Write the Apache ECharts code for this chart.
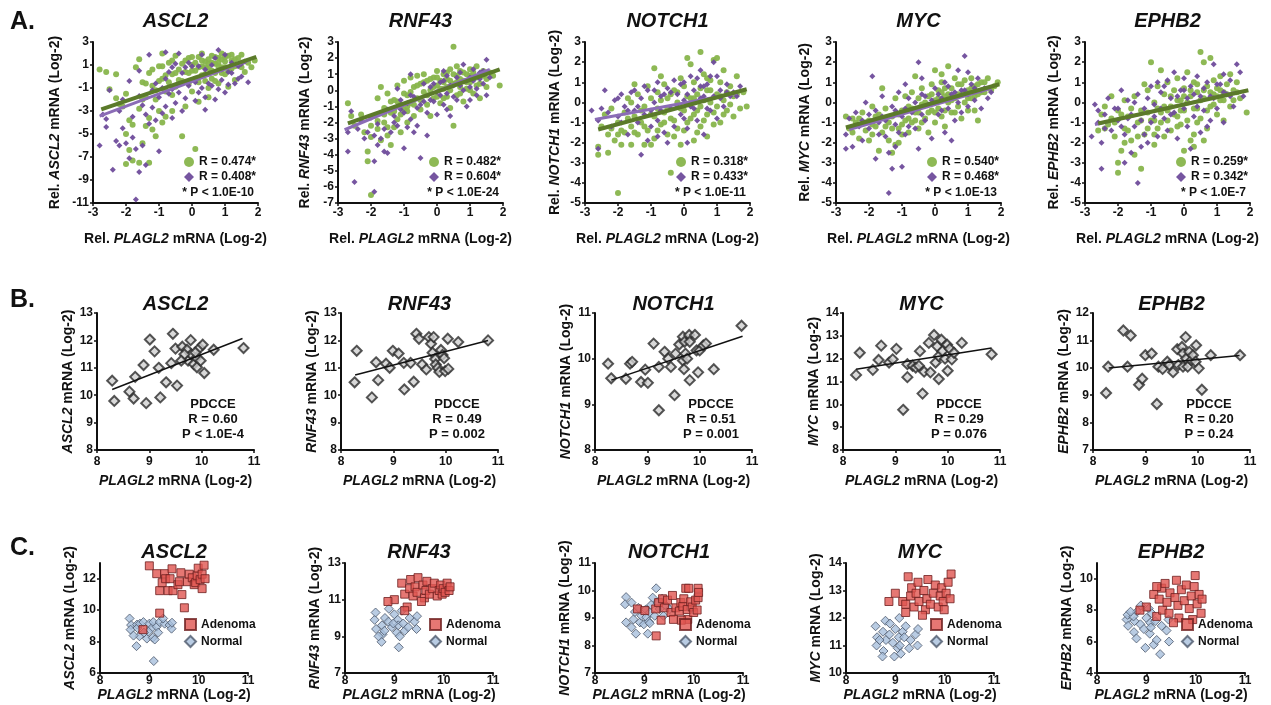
<!DOCTYPE html>
<html>
<head>
<meta charset="utf-8">
<script src="https://cdn.jsdelivr.net/npm/echarts@6/dist/echarts.min.js"></script>
<style>
html, body { margin: 0; padding: 0; background: #fff; }
#main { width: 1271px; height: 705px; }
</style>
</head>
<body>
<div id="main"></div>
<script>
// gene names (columns)
const genes = ['ASCL2', 'RNF43', 'NOTCH1', 'MYC', 'EPHB2'];

// ---------- row A : two cohorts, [PLAGL2, gene] ----------
const ascl2A_green = [[-2.6,0.4],[-2.3,0.2],[-2.5,-1.1],[-2.2,-2.4],[-2.0,-1.5],[-1.9,-3.8],[-1.8,-4.2],[-2.0,-5.0],[-1.9,-6.4],[-1.8,-7.3],[-2.0,-7.6],[-1.6,-7.5],[-1.3,-7.5],[-1.5,-5.8],[-1.4,-4.3],[-1.3,-3.6],[-1.2,-4.6],[-1.1,-5.2],[-1.0,-3.0],[-0.9,-4.0],[-0.8,-3.5],[-1.7,0.8],[-1.6,1.5],[-1.5,-0.5],[-1.4,-1.8],[-1.3,0.3],[-1.2,-0.8],[-1.1,-2.0],[-1.0,0.9],[-0.9,-0.2],[-0.8,-1.3],[-0.7,1.2],[-0.6,0.2],[-0.5,-0.9],[-0.5,1.8],[-0.4,0.6],[-0.3,-5.2],[-0.3,-0.4],[-0.2,1.4],[-0.1,0.3],[0.0,-1.3],[0.0,1.0],[0.1,-6.3],[0.1,0.5],[0.2,1.7],[0.2,-0.5],[0.3,0.9],[0.3,2.0],[0.4,0.2],[0.4,1.3],[0.5,-1.0],[0.5,0.7],[0.6,1.8],[0.6,-0.2],[0.7,1.1],[0.7,0.3],[0.8,1.6],[0.8,-0.6],[0.9,0.8],[0.9,2.0],[1.0,0.2],[1.0,1.3],[1.1,1.8],[1.1,-0.9],[1.2,0.7],[1.3,1.5],[1.3,-0.3],[1.4,1.0],[1.5,1.9],[1.6,0.4],[1.8,0.8],[-0.6,-3.0],[-0.2,-2.6],[0.2,-2.2],[-1.6,-2.8],[-2.3,-1.9],[0.5,-1.8],[-0.9,2.0],[1.9,1.4],[-2.8,0.6],
  [-1.2,0.6],[-1.0,-0.4],[-0.9,0.9],[-0.8,0.1],[-0.7,-0.5],[-0.6,1.4],[-0.5,0.3],[-0.4,-0.3],[-0.3,1.1],[-0.2,0.4],[-0.1,1.6],[-0.1,-0.6],[0.0,0.5],[0.0,1.7],[0.1,1.2],[0.1,-0.2],[0.2,0.8],[0.3,0.1],[0.3,1.4],[0.4,0.8],[0.4,-0.4],[0.5,1.5],[0.5,1.1],[0.6,0.5],[0.6,1.2],[0.7,1.7],[0.7,-0.4],[0.8,0.9],[0.8,1.2],[0.9,0.3],[0.9,1.5],[1.0,0.8],[1.0,1.7],[1.1,0.5],[1.2,1.4],[1.2,1.9],[1.3,0.9],[1.4,1.6],[1.5,0.8],[1.7,1.2],[-1.4,-0.6],[-1.5,-2.0],[-1.1,-1.2],[-0.6,-1.6],[-2.1,-2.6]];
const ascl2A_purple = [[-2.8,-6.0],[-2.7,-3.3],[-2.6,-4.4],[-2.5,-1.2],[-2.4,-8.1],[-2.3,-5.6],[-2.2,-3.0],[-2.1,-2.0],[-2.0,-5.8],[-1.9,-7.1],[-1.8,-3.5],[-1.7,-10.7],[-1.7,-6.3],[-1.6,-8.3],[-1.5,-6.0],[-1.5,-2.5],[-1.4,-7.7],[-1.3,1.9],[-1.3,-4.1],[-1.2,-2.7],[-1.1,-0.6],[-1.0,-6.5],[-1.0,-1.8],[-0.9,-3.2],[-0.8,2.1],[-0.8,-0.2],[-0.7,-1.5],[-0.6,0.8],[-0.5,-2.3],[-0.4,2.0],[-0.4,-0.7],[-0.3,0.3],[-0.2,-1.9],[-0.1,1.2],[0.0,-0.3],[0.1,-2.1],[0.2,0.9],[0.3,1.9],[0.3,-1.0],[0.4,-1.8],[0.5,0.2],[0.6,-0.8],[0.7,-2.0],[0.7,1.6],[0.8,2.3],[0.9,-0.3],[1.0,1.9],[1.0,-1.4],[1.1,0.4],[1.2,1.2],[1.3,-0.6],[1.4,0.9],[1.5,0.0],[1.6,1.3],[-1.9,-0.4],[-1.6,0.5],[-0.6,-3.6],[0.4,-2.9],[-2.1,-4.5],[1.7,-0.5],
  [-1.6,-1.7],[-1.4,-3.3],[-1.2,-1.2],[-1.1,-3.8],[-0.9,-1.0],[-0.8,-2.6],[-0.7,0.4],[-0.6,-1.1],[-0.5,1.1],[-0.4,-1.4],[-0.2,0.8],[-0.1,-0.8],[0.0,0.9],[0.1,-0.5],[0.2,-1.4],[0.4,0.6],[0.5,-0.6],[0.6,1.0],[0.8,-1.1],[0.9,0.6],[1.1,-0.7],[1.2,0.3],[1.4,-0.2],[-2.2,-6.0],[-1.8,-5.3],[-0.3,-3.0],[1.5,1.1],[-2.6,-3.7]];
const ascl2A_greenFit = [[-2.75,-2.85],[1.95,1.7]];
const ascl2A_purpleFit = [[-2.8,-3.45],[1.75,1.45]];

const rnf43A_green = [[-2.7,-0.8],[-2.5,-2.2],[-2.3,-1.5],[-2.2,-2.6],[-2.1,-3.8],[-2.1,-4.4],[-2.0,-6.5],[-2.0,-2.9],[-1.9,-1.6],[-1.8,-0.5],[-1.8,-2.4],[-1.7,-3.1],[-1.6,-1.1],[-1.6,-2.0],[-1.5,-0.2],[-1.5,-2.8],[-1.4,-1.4],[-1.4,-3.4],[-1.3,-0.6],[-1.3,-2.3],[-1.2,0.3],[-1.2,-1.8],[-1.1,-0.9],[-1.1,-2.6],[-1.0,0.6],[-1.0,-1.2],[-0.9,-0.3],[-0.9,-2.0],[-0.8,0.8],[-0.8,-0.8],[-0.7,-1.6],[-0.7,0.2],[-0.6,-0.5],[-0.6,0.9],[-0.5,-1.2],[-0.5,0.4],[-0.4,-0.1],[-0.4,1.0],[-0.3,-0.9],[-0.3,0.6],[-0.2,0.0],[-0.2,-1.6],[-0.1,0.8],[-0.1,-0.5],[0.0,0.3],[0.0,1.2],[0.1,-0.8],[0.1,0.6],[0.2,0.1],[0.2,1.0],[0.3,-0.4],[0.3,0.7],[0.4,1.3],[0.4,-1.1],[0.5,2.7],[0.5,-2.2],[0.5,0.4],[0.6,0.9],[0.6,-0.3],[0.7,1.2],[0.7,0.2],[0.8,0.6],[0.8,-0.7],[0.9,1.0],[0.9,0.1],[1.0,0.5],[1.0,1.3],[1.1,-0.2],[1.1,0.8],[1.2,1.5],[1.2,0.3],[1.3,-0.5],[1.4,0.9],[1.5,0.2],[1.6,1.1],[1.9,0.3],[-2.6,-1.6],[-1.7,0.2],[-0.9,-1.3],[0.6,1.5],
  [-1.3,-1.3],[-1.2,-0.7],[-1.1,-1.5],[-1.0,-0.2],[-0.9,-1.0],[-0.8,-0.1],[-0.7,-0.9],[-0.6,0.3],[-0.5,-0.6],[-0.4,0.5],[-0.3,-0.3],[-0.2,0.7],[-0.1,0.2],[0.0,-0.4],[0.0,0.8],[0.1,0.1],[0.2,0.5],[0.2,-0.5],[0.3,1.1],[0.3,0.2],[0.4,0.6],[0.4,0.0],[0.5,1.0],[0.6,0.5],[0.7,0.7],[0.7,-0.2],[0.8,1.1],[0.9,0.5],[1.0,0.9],[1.0,0.0],[1.1,1.1],[1.2,0.8],[1.3,0.4],[1.4,1.2],[1.5,0.7],[1.7,0.9],[-1.6,-1.5],[-1.5,-2.3],[-1.8,-1.9],[-2.0,-2.2],[-1.4,-0.7]];
const rnf43A_purple = [[-2.7,-2.6],[-2.7,-3.8],[-2.6,-1.3],[-2.5,-5.7],[-2.4,-2.4],[-2.3,-1.9],[-2.2,-3.0],[-2.0,-1.7],[-1.9,-6.3],[-1.9,-4.4],[-1.9,-2.8],[-1.8,-2.1],[-1.7,-3.0],[-1.6,-3.8],[-1.5,-3.9],[-1.5,-1.2],[-1.4,-2.6],[-1.3,-1.6],[-1.2,-2.2],[-1.1,-0.6],[-1.0,-3.6],[-1.0,-1.4],[-0.9,-0.8],[-0.8,-1.8],[-0.7,-0.4],[-0.6,-2.2],[-0.5,-4.2],[-0.5,-0.9],[-0.4,0.4],[-0.3,-2.8],[-0.3,-1.4],[-0.2,0.2],[-0.1,-0.7],[0.0,-0.1],[0.0,-1.5],[0.1,0.5],[0.2,-0.9],[0.3,0.9],[0.3,-0.2],[0.4,-1.6],[0.5,0.3],[0.6,-0.6],[0.7,1.1],[0.8,1.6],[0.8,0.0],[0.9,-1.0],[1.0,0.8],[1.1,1.3],[1.2,0.1],[1.3,1.1],[1.4,0.4],[1.5,1.9],[1.5,-0.3],[1.6,0.8],[-0.8,1.0],[-1.2,0.1],[0.2,1.2],[1.0,-0.6],
  [-1.6,-2.4],[-1.3,-2.0],[-1.1,-1.2],[-0.9,-2.3],[-0.8,-0.3],[-0.6,-1.1],[-0.4,-0.7],[-0.2,-0.6],[-0.1,0.4],[0.1,-0.3],[0.2,0.6],[0.4,0.3],[0.5,-0.4],[0.6,0.8],[0.7,0.3],[0.9,0.6],[1.0,0.2],[1.1,0.6],[1.3,0.7],[1.4,1.2],[-2.1,-2.6],[-1.8,-3.4],[-0.7,-2.6],[1.2,-0.3],[0.3,-1.2]];
const rnf43A_greenFit = [[-2.7,-2.05],[1.9,1.3]];
const rnf43A_purpleFit = [[-2.8,-2.45],[1.6,1.3]];

const notch1A_green = [[-2.6,-2.6],[-2.6,-2.2],[-2.5,-1.2],[-2.4,-0.6],[-2.3,-1.6],[-2.2,-0.3],[-2.1,-1.9],[-2.0,-4.5],[-2.0,-1.0],[-1.9,-2.1],[-1.8,-0.5],[-1.8,-1.5],[-1.7,0.2],[-1.6,-1.2],[-1.6,-2.1],[-1.5,-0.7],[-1.4,-1.6],[-1.4,0.4],[-1.3,-1.0],[-1.2,-2.1],[-1.2,-0.2],[-1.1,0.8],[-1.1,-1.4],[-1.0,-0.6],[-0.9,1.7],[-0.9,-1.8],[-0.8,-0.3],[-0.8,0.5],[-0.7,-1.1],[-0.6,0.9],[-0.6,-0.5],[-0.5,-1.6],[-0.5,0.2],[-0.4,-3.5],[-0.4,-0.8],[-0.3,0.6],[-0.2,-1.3],[-0.2,0.0],[-0.1,1.2],[-0.1,-2.1],[0.0,-0.4],[0.0,0.8],[0.1,2.2],[0.1,-1.0],[0.2,1.9],[0.2,0.2],[0.3,-0.6],[0.3,1.0],[0.4,-1.5],[0.4,0.4],[0.5,2.5],[0.5,-0.2],[0.6,1.4],[0.6,-0.9],[0.7,0.6],[0.7,-1.7],[0.8,0.0],[0.8,1.1],[0.9,2.1],[0.9,-0.5],[1.0,2.2],[1.0,0.4],[1.1,-1.0],[1.1,1.0],[1.2,0.1],[1.2,1.6],[1.3,-0.4],[1.4,0.8],[1.5,0.3],[1.6,1.3],[1.7,-0.3],[1.9,-0.2],[-1.0,-2.1],[-1.5,0.9],[0.3,-1.9],[-0.7,1.3],[1.5,-0.7],[-2.3,-2.5],
  [-2.2,-1.3],[-1.9,-1.4],[-1.7,-0.8],[-1.5,-1.5],[-1.3,-0.4],[-1.2,-1.2],[-1.0,0.2],[-0.9,-0.7],[-0.8,-1.4],[-0.7,0.1],[-0.6,-1.0],[-0.5,-0.3],[-0.4,0.4],[-0.3,-0.9],[-0.2,0.5],[-0.1,-0.3],[0.0,-1.4],[0.1,0.3],[0.2,-0.8],[0.3,0.2],[0.4,-0.4],[0.5,0.7],[0.5,-1.2],[0.6,0.1],[0.7,-0.6],[0.8,0.6],[0.9,-1.1],[1.0,-0.2],[1.1,0.3],[1.2,-0.6],[1.3,0.5],[1.4,-0.1],[1.6,0.4],[1.8,0.5],[-1.6,0.0],[-2.0,-1.6],[-0.3,-1.7],[0.7,1.2]];
const notch1A_purple = [[-2.8,-0.4],[-2.6,-2.3],[-2.6,-0.9],[-2.4,0.6],[-2.3,-0.5],[-2.2,-1.2],[-2.1,0.1],[-2.0,-0.7],[-1.9,0.4],[-1.8,-0.2],[-1.7,-1.6],[-1.6,0.5],[-1.5,-0.4],[-1.4,-1.0],[-1.3,-2.6],[-1.3,0.2],[-1.2,-0.6],[-1.1,0.6],[-1.0,-1.2],[-0.9,0.0],[-0.8,1.0],[-0.8,-0.9],[-0.7,0.3],[-0.6,-1.5],[-0.5,0.7],[-0.4,-0.3],[-0.3,1.1],[-0.3,-1.2],[-0.2,0.4],[-0.1,-0.6],[0.0,1.0],[0.0,0.1],[0.1,-1.3],[0.2,1.3],[0.2,-0.2],[0.3,0.6],[0.4,-0.9],[0.4,1.2],[0.5,0.2],[0.6,-1.6],[0.6,0.8],[0.7,-0.3],[0.8,1.3],[0.9,2.0],[0.9,0.3],[1.0,-0.8],[1.0,1.3],[1.1,0.6],[1.2,-0.2],[1.3,0.9],[1.4,0.3],[1.5,0.5],[1.7,0.8],[-0.5,-2.0],[0.1,-2.0],[-1.9,-1.0],[0.5,1.6],[-1.1,-1.9],
  [-2.5,-0.3],[-2.0,0.2],[-1.7,-0.4],[-1.5,0.6],[-1.4,-0.2],[-1.2,0.8],[-1.0,-0.4],[-0.9,0.6],[-0.7,-0.4],[-0.6,0.4],[-0.4,0.5],[-0.2,-0.2],[-0.1,0.9],[0.1,0.4],[0.3,-0.3],[0.5,0.8],[0.6,0.3],[0.7,0.9],[0.8,-0.4],[1.1,0.2],[1.3,0.5],[1.6,0.3],[-0.8,-1.7],[0.0,-0.8]];
const notch1A_greenFit = [[-2.6,-1.35],[1.9,0.65]];
const notch1A_purpleFit = [[-2.7,-0.85],[1.6,0.45]];

const mycA_green = [[-2.7,-0.7],[-2.6,-1.3],[-2.4,-1.0],[-2.3,-1.8],[-2.2,-0.5],[-2.1,-1.4],[-2.0,-0.9],[-2.0,-1.9],[-1.9,-0.2],[-1.8,-1.2],[-1.7,-2.4],[-1.7,-0.6],[-1.6,0.7],[-1.6,-1.5],[-1.5,-0.3],[-1.4,-1.0],[-1.4,-1.9],[-1.3,-2.5],[-1.3,-0.7],[-1.2,-2.1],[-1.2,0.2],[-1.1,-1.3],[-1.0,-0.4],[-1.0,-1.6],[-0.9,0.3],[-0.9,-0.9],[-0.8,-1.5],[-0.8,-0.2],[-0.7,0.5],[-0.7,-1.0],[-0.6,-0.5],[-0.5,0.2],[-0.5,-1.3],[-0.4,-0.1],[-0.4,0.7],[-0.3,-0.8],[-0.2,0.3],[-0.2,-1.5],[-0.1,0.9],[-0.1,-0.4],[0.0,0.1],[0.0,-1.0],[0.1,0.6],[0.1,-0.3],[0.2,1.0],[0.2,-0.7],[0.3,0.3],[0.3,-1.2],[0.4,1.8],[0.4,0.0],[0.5,0.7],[0.5,-0.5],[0.6,1.2],[0.6,0.2],[0.7,-0.2],[0.7,0.9],[0.8,0.4],[0.8,-0.8],[0.9,1.1],[0.9,0.0],[1.0,0.6],[1.0,-0.4],[1.1,1.2],[1.1,0.2],[1.2,0.8],[1.3,-0.9],[1.3,0.4],[1.4,1.0],[1.5,0.5],[1.6,1.2],[1.8,0.8],[1.9,1.0],[-0.6,1.3],[0.2,1.4],[-1.5,-1.2],[-2.5,-0.8],[1.2,-0.4],[0.0,1.6],
  [-2.5,-1.5],[-2.3,-0.8],[-2.1,-1.0],[-1.9,-1.6],[-1.8,-0.7],[-1.5,-0.8],[-1.3,-1.3],[-1.1,-0.6],[-1.0,-1.1],[-0.9,-0.4],[-0.8,-0.8],[-0.7,-0.3],[-0.6,-0.9],[-0.5,-0.5],[-0.4,-1.0],[-0.3,0.0],[-0.2,-0.5],[-0.1,0.4],[0.0,-0.5],[0.1,0.2],[0.2,0.5],[0.3,0.7],[0.4,0.4],[0.5,0.1],[0.6,-0.5],[0.7,0.4],[0.8,0.9],[0.9,0.5],[1.0,0.2],[1.1,0.7],[1.2,0.3],[1.3,0.9],[1.4,0.5],[1.5,1.0],[1.7,0.6],[-1.9,-1.1],[-1.1,-2.0],[0.3,-0.4]];
const mycA_purple = [[-2.7,-1.6],[-2.6,-0.8],[-2.5,-2.2],[-2.4,-0.5],[-2.2,-1.9],[-2.2,-0.9],[-2.1,0.0],[-2.0,-1.3],[-1.9,1.3],[-1.8,-2.8],[-1.8,-0.4],[-1.7,-1.0],[-1.6,0.3],[-1.5,-1.7],[-1.4,-2.5],[-1.4,-4.5],[-1.3,-3.3],[-1.3,-0.2],[-1.2,-1.1],[-1.1,0.5],[-1.0,-3.2],[-1.0,-0.7],[-0.9,-1.6],[-0.8,0.2],[-0.7,-0.5],[-0.6,-1.3],[-0.5,2.0],[-0.5,-2.3],[-0.4,0.4],[-0.3,-0.9],[-0.2,-0.1],[-0.1,-1.8],[0.0,0.7],[0.1,-0.6],[0.2,0.2],[0.3,-1.5],[0.3,1.0],[0.4,-0.3],[0.5,0.4],[0.6,-0.9],[0.7,1.6],[0.7,0.0],[0.8,-0.5],[0.9,2.3],[0.9,0.6],[1.0,1.5],[1.0,-0.2],[1.1,0.9],[1.2,0.1],[1.3,1.2],[1.4,-0.3],[1.5,0.7],[1.6,0.2],[1.7,0.5],[-0.4,1.2],[-1.6,-0.7],[0.5,-1.9],[-0.9,0.9],
  [-2.3,-1.2],[-2.0,-0.6],[-1.7,-1.6],[-1.5,-0.9],[-1.2,-0.4],[-1.1,-1.5],[-0.9,-0.3],[-0.8,-1.2],[-0.6,0.0],[-0.4,-0.6],[-0.3,0.3],[-0.1,0.1],[0.1,0.4],[0.2,-0.4],[0.4,0.8],[0.6,0.5],[0.8,0.6],[1.0,0.4],[1.2,0.7],[1.4,0.6],[-2.7,-2.3],[-1.2,-2.2]];
const mycA_greenFit = [[-2.7,-1.25],[1.95,0.9]];
const mycA_purpleFit = [[-2.6,-1.35],[1.7,0.7]];

const ephb2A_green = [[-2.6,-1.4],[-2.5,-0.6],[-2.4,-0.2],[-2.3,-1.1],[-2.2,-0.8],[-2.1,-1.7],[-2.0,-3.0],[-2.0,-3.5],[-2.0,-0.4],[-1.9,-2.4],[-1.8,-1.3],[-1.8,0.1],[-1.7,-0.7],[-1.6,-1.9],[-1.5,-2.6],[-1.5,0.3],[-1.4,-1.0],[-1.3,-3.3],[-1.3,-0.4],[-1.2,-1.6],[-1.1,0.6],[-1.0,2.0],[-1.0,-0.9],[-0.9,-2.1],[-0.9,0.0],[-0.8,-1.3],[-0.8,0.8],[-0.7,-0.5],[-0.6,-1.7],[-0.6,0.4],[-0.5,-0.9],[-0.5,1.0],[-0.4,-0.2],[-0.4,-1.4],[-0.3,0.6],[-0.2,-0.7],[-0.2,1.2],[-0.1,0.1],[-0.1,-1.1],[0.0,0.7],[0.0,-0.4],[0.1,1.5],[0.1,-0.9],[0.2,-1.9],[0.2,0.3],[0.3,-2.2],[0.3,1.0],[0.4,-0.3],[0.4,0.5],[0.5,2.5],[0.5,-0.8],[0.6,2.0],[0.6,0.2],[0.7,-1.3],[0.7,0.8],[0.8,2.2],[0.8,-0.2],[0.9,0.4],[0.9,1.1],[1.0,-0.6],[1.0,0.7],[1.1,0.1],[1.1,1.3],[1.2,-0.9],[1.2,0.5],[1.3,0.9],[1.4,-0.2],[1.5,0.6],[1.6,1.0],[1.7,0.2],[1.9,-0.5],[0.3,-1.6],[-1.2,0.9],[-0.7,1.6],[0.0,-2.4],[1.4,1.4],[-2.2,0.3],[0.6,-1.9],
  [-2.4,-1.3],[-2.1,-1.0],[-1.9,-0.6],[-1.7,-1.4],[-1.6,-0.3],[-1.4,-1.7],[-1.3,-0.9],[-1.1,-0.5],[-1.1,-1.3],[-0.9,-0.9],[-0.8,-0.3],[-0.7,-1.0],[-0.6,-0.2],[-0.5,-0.4],[-0.4,0.3],[-0.3,-0.6],[-0.2,0.1],[-0.1,-0.4],[0.0,0.3],[0.1,0.0],[0.2,0.6],[0.3,-0.3],[0.4,0.9],[0.5,0.1],[0.6,0.6],[0.7,-0.4],[0.8,0.5],[0.9,-0.1],[1.0,0.3],[1.1,0.6],[1.2,0.1],[1.3,0.4],[1.5,0.1],[1.6,0.5],[-1.8,-2.0],[-0.9,-1.6],[0.4,-1.0],[-0.2,-1.2]];
const ephb2A_purple = [[-2.8,-1.7],[-2.7,-0.1],[-2.6,-1.0],[-2.5,-2.0],[-2.5,-3.3],[-2.4,-0.6],[-2.3,0.2],[-2.2,-1.4],[-2.1,-0.3],[-2.0,-0.9],[-1.9,0.6],[-1.8,-3.0],[-1.8,-1.6],[-1.7,0.1],[-1.6,-0.6],[-1.5,-1.2],[-1.4,-4.0],[-1.4,0.4],[-1.3,-2.2],[-1.2,-0.3],[-1.1,-2.0],[-1.0,0.8],[-1.0,-1.0],[-0.9,-0.1],[-0.8,-1.7],[-0.7,0.5],[-0.6,-0.8],[-0.5,1.1],[-0.5,-1.4],[-0.4,0.2],[-0.3,1.5],[-0.3,-0.5],[-0.2,-1.8],[-0.1,0.6],[0.0,1.2],[0.0,-0.3],[0.1,-1.2],[0.2,0.8],[0.3,-0.7],[0.4,1.3],[0.5,-1.5],[0.5,0.3],[0.6,-0.4],[0.7,1.0],[0.8,-0.9],[0.9,1.9],[0.9,0.2],[1.0,-0.3],[1.1,0.9],[1.2,-1.0],[1.3,0.4],[1.4,1.1],[1.5,-0.2],[1.6,1.9],[1.7,1.5],[1.8,0.3],[-0.8,1.0],[0.2,-2.3],[-1.6,-2.5],[1.2,1.4],
  [-2.6,-0.4],[-2.4,-1.3],[-2.0,-0.3],[-1.9,-1.2],[-1.7,-0.8],[-1.5,0.0],[-1.3,-0.9],[-1.1,0.2],[-0.9,-0.7],[-0.7,-0.3],[-0.6,0.8],[-0.4,-0.6],[-0.2,0.3],[0.0,0.6],[0.1,0.2],[0.3,0.4],[0.4,-0.2],[0.6,0.7],[0.8,0.3],[1.0,0.9],[1.2,0.5],[1.4,0.3],[-1.2,-1.6],[0.7,-1.2]];
const ephb2A_greenFit = [[-2.6,-1.05],[1.95,0.6]];
const ephb2A_purpleFit = [[-2.7,-1.1],[1.6,0.5]];

const aGreenR = ['R = 0.474*', 'R = 0.482*', 'R = 0.318*', 'R = 0.540*', 'R = 0.259*'];
const aPurpleR = ['R = 0.408*', 'R = 0.604*', 'R = 0.433*', 'R = 0.468*', 'R = 0.342*'];
const aP = ['* P < 1.0E-10', '* P < 1.0E-24', '* P < 1.0E-11', '* P < 1.0E-13', '* P < 1.0E-7'];
const aYMin = [-11, -7, -5, -5, -5];
const aYMax = [3, 3, 3, 3, 3];
const ascl2A_yTicks = [-11, -9, -7, -5, -3, -1, 1, 3];

// ---------- row B : PDCCE ----------
const ascl2B = [[8.29,10.53],[8.33,9.79],[8.62,10.13],[8.70,9.88],[8.73,10.67],[8.89,11.10],[8.94,9.71],[9.01,12.03],[9.10,11.6],[9.18,11.0],[9.21,9.92],[9.32,10.47],[9.42,11.17],[9.45,12.24],[9.53,10.35],[9.50,11.70],[9.63,11.77],[9.72,11.66],[9.74,11.26],[9.79,12.01],[9.80,11.49],[9.85,11.14],[9.90,11.37],[9.91,11.02],[9.96,11.72],[9.98,11.26],[10.02,11.84],[10.05,10.81],[9.88,11.56],[9.67,11.49],[9.61,11.26],[10.23,11.66],[10.80,11.72]];
const ascl2B_fit = [[8.29,10.21],[10.78,12.07]];
const rnf43B = [[8.26,10.47],[8.30,11.62],[8.59,9.92],[8.67,11.2],[8.71,10.55],[8.86,11.15],[8.93,11.0],[8.99,11.62],[9.10,11.52],[9.20,11.18],[9.21,10.21],[9.33,11.18],[9.39,10.49],[9.44,12.24],[9.49,12.06],[9.55,11.12],[9.63,10.94],[9.68,12.12],[9.72,11.88],[9.77,12.12],[9.75,11.55],[9.80,11.32],[9.81,11.12],[9.85,10.99],[9.88,10.85],[9.91,11.65],[9.94,11.47],[9.97,11.35],[9.99,10.88],[10.04,12.06],[10.05,10.96],[10.24,11.94],[10.81,12.0]];
const rnf43B_fit = [[8.27,10.74],[10.81,12.0]];
const notch1B = [[8.25,9.89],[8.31,9.57],[8.67,9.89],[8.71,9.93],[8.59,9.56],[8.88,9.49],[8.96,9.76],[9.01,9.47],[9.12,10.33],[9.22,9.82],[9.22,8.87],[9.33,10.15],[9.40,10.0],[9.45,9.82],[9.52,9.2],[9.54,10.11],[9.61,10.31],[9.68,10.48],[9.71,10.37],[9.68,9.96],[9.70,9.77],[9.73,10.11],[9.76,10.0],[9.80,10.52],[9.81,10.37],[9.81,9.53],[9.91,10.52],[9.94,10.18],[9.97,9.70],[10.0,10.18],[10.07,10.29],[10.12,10.33],[10.27,9.77],[10.80,10.72]];
const notch1B_fit = [[8.31,9.53],[10.82,10.49]];
const mycB = [[8.25,11.29],[8.32,12.26],[8.57,11.51],[8.68,11.94],[8.73,12.57],[8.88,11.83],[8.95,11.97],[9.02,12.43],[9.15,9.76],[9.23,11.76],[9.23,11.19],[9.33,11.69],[9.39,11.61],[9.47,12.33],[9.45,11.69],[9.52,10.47],[9.55,11.43],[9.64,12.69],[9.67,11.40],[9.74,13.04],[9.77,11.83],[9.80,12.54],[9.83,12.11],[9.83,11.11],[9.88,12.83],[9.90,12.33],[9.95,12.0],[9.99,12.61],[10.0,11.47],[10.04,12.43],[10.08,11.97],[10.12,12.26],[10.27,12.69],[10.84,12.19]];
const mycB_fit = [[8.25,11.54],[10.84,12.47]];
const ephb2B = [[8.25,9.08],[8.29,10.04],[8.58,11.36],[8.72,11.18],[8.66,10.04],[8.88,9.38],[8.94,9.6],[9.0,10.46],[9.12,10.52],[9.22,8.68],[9.25,10.04],[9.33,9.96],[9.42,10.22],[9.46,10.10],[9.53,9.84],[9.61,10.68],[9.63,10.1],[9.70,10.76],[9.72,10.52],[9.72,10.04],[9.77,11.12],[9.78,10.34],[9.81,10.04],[9.84,10.58],[9.88,10.28],[9.91,10.46],[9.96,10.22],[9.97,10.82],[10.02,9.98],[10.08,9.20],[10.25,10.46],[10.81,10.46]];
const ephb2B_fit = [[8.3,9.99],[10.8,10.45]];

const bR = ['R = 0.60', 'R = 0.49', 'R = 0.51', 'R = 0.29', 'R = 0.20'];
const bP = ['P < 1.0E-4', 'P = 0.002', 'P = 0.001', 'P = 0.076', 'P = 0.24'];
const bYMin = [8, 8, 8, 8, 7];
const bYMax = [13, 13, 11, 14, 12];

// ---------- row C : adenoma vs normal ----------
const ascl2C_adenoma = [[9.0,12.82],[9.15,12.32],[9.21,11.24],[9.26,11.75],[9.31,12.32],[9.33,12.0],[9.38,11.24],[9.42,12.0],[9.46,12.63],[9.48,11.24],[9.58,11.62],[9.61,11.81],[9.64,12.38],[9.66,10.99],[9.71,10.15],[9.77,11.81],[9.81,12.29],[9.87,12.06],[9.91,11.62],[9.94,11.75],[9.97,12.19],[9.99,12.67],[10.03,11.94],[10.07,12.29],[10.11,12.86],[10.07,11.37],[10.13,12.0],[9.21,9.81],[8.87,8.76]];
const ascl2C_normal = [[8.6,9.47],[8.63,9.05],[8.62,8.76],[8.75,9.08],[8.76,8.86],[8.81,9.14],[8.80,8.34],[8.74,7.71],[8.88,9.24],[8.95,8.19],[9.0,9.14],[9.05,8.86],[9.07,8.25],[9.08,9.24],[9.15,8.95],[9.11,8.13],[9.09,6.76],[9.18,8.57],[9.21,9.24],[9.31,9.14],[9.28,9.47],[9.41,9.05],[9.45,8.82],[9.46,9.2],[8.68,8.38],[8.98,8.63],[8.89,8.57]];
const rnf43C_adenoma = [[9.0,11.0],[9.15,11.9],[9.21,11.3],[9.26,10.6],[9.31,11.6],[9.33,12.1],[9.38,11.2],[9.42,11.7],[9.46,11.4],[9.48,12.2],[9.58,11.8],[9.61,11.1],[9.64,11.5],[9.66,12.0],[9.71,11.3],[9.77,11.6],[9.81,11.9],[9.87,11.2],[9.91,11.5],[9.94,11.8],[9.97,11.3],[9.99,11.6],[10.03,11.4],[10.07,11.9],[10.11,11.5],[10.13,11.7],[9.21,10.4],[8.87,10.9],[9.55,10.9]];
const rnf43C_normal = [[8.6,9.9],[8.63,9.4],[8.62,10.3],[8.75,9.6],[8.76,9.1],[8.81,10.0],[8.80,9.3],[8.74,8.7],[8.88,9.8],[8.95,9.5],[9.0,10.2],[9.05,9.2],[9.07,9.9],[9.08,9.6],[9.15,10.4],[9.11,9.0],[9.09,8.4],[9.18,9.7],[9.21,9.3],[9.31,10.0],[9.28,9.5],[9.41,9.8],[9.45,9.4],[9.46,10.1],[8.68,9.0],[8.98,9.7],[8.89,10.5]];
const notch1C_adenoma = [[8.86,9.33],[9.01,9.27],[9.24,8.35],[9.23,9.33],[9.29,9.56],[9.34,8.92],[9.37,9.7],[9.41,9.37],[9.47,9.65],[9.54,9.2],[9.59,8.95],[9.64,9.37],[9.71,9.25],[9.74,9.56],[9.78,9.42],[9.80,9.70],[9.84,10.08],[9.87,9.31],[9.88,8.95],[9.90,10.08],[9.94,9.59],[9.97,9.40],[10.0,9.2],[10.04,9.65],[10.09,9.74],[10.09,10.08],[10.07,9.29],[10.10,9.93],[9.57,9.82],[9.75,8.92]];
const notch1C_normal = [[8.63,9.76],[8.61,9.5],[8.63,8.84],[8.74,8.66],[8.78,8.95],[8.81,9.22],[8.83,8.43],[8.88,9.37],[8.91,8.84],[8.94,9.08],[8.99,8.77],[9.03,9.31],[9.04,9.03],[9.07,8.43],[9.09,8.87],[9.11,9.20],[9.14,9.48],[9.17,9.74],[9.21,9.08],[9.24,10.08],[9.27,9.54],[9.31,9.33],[9.36,9.70],[9.39,9.08],[9.44,9.45],[9.51,9.31],[8.74,9.56],[9.11,8.81]];
const mycC_adenoma = [[9.0,12.9],[9.15,12.6],[9.21,12.5],[9.26,13.5],[9.31,12.8],[9.33,13.1],[9.38,12.4],[9.42,12.9],[9.46,13.3],[9.48,12.6],[9.58,13.0],[9.61,12.3],[9.64,12.7],[9.66,13.4],[9.71,12.5],[9.77,12.9],[9.81,13.2],[9.87,12.4],[9.91,12.8],[9.94,13.1],[9.97,12.6],[9.99,12.3],[10.03,12.9],[10.07,13.3],[10.11,12.7],[10.13,13.6],[9.21,12.2],[8.87,12.6],[9.55,12.1]];
const mycC_normal = [[8.6,11.7],[8.63,11.3],[8.62,11.0],[8.75,11.5],[8.76,10.8],[8.81,11.2],[8.80,11.9],[8.74,10.6],[8.88,11.4],[8.95,11.1],[9.0,11.6],[9.05,10.9],[9.07,11.3],[9.08,12.0],[9.15,11.5],[9.11,10.7],[9.09,11.0],[9.18,11.3],[9.21,11.7],[9.31,11.2],[9.28,10.9],[9.41,11.4],[9.45,11.0],[9.46,11.6],[8.68,11.2],[8.98,10.6],[8.89,11.8]];
const ephb2C_adenoma = [[9.0,8.2],[9.15,9.0],[9.21,7.6],[9.26,8.7],[9.31,9.4],[9.33,8.0],[9.38,9.7],[9.42,8.5],[9.46,7.8],[9.48,9.1],[9.58,8.8],[9.61,9.9],[9.64,8.3],[9.66,7.5],[9.71,9.3],[9.77,8.6],[9.81,9.6],[9.87,8.1],[9.91,8.9],[9.94,7.4],[9.97,9.5],[9.99,10.2],[10.03,8.4],[10.07,9.0],[10.11,7.8],[10.13,8.7],[9.21,9.5],[8.87,8.0],[9.55,7.2]];
const ephb2C_normal = [[8.6,7.4],[8.63,7.0],[8.62,7.7],[8.75,6.6],[8.76,7.3],[8.81,7.9],[8.80,6.2],[8.74,7.6],[8.88,7.1],[8.95,6.8],[9.0,7.5],[9.05,8.1],[9.07,6.5],[9.08,7.2],[9.15,5.8],[9.11,7.8],[9.09,6.9],[9.18,7.3],[9.21,6.1],[9.31,7.0],[9.28,5.2],[9.41,6.7],[9.45,7.4],[9.46,6.0],[8.68,7.9],[8.98,5.6],[8.89,8.3]];

const cYMin = [6, 7, 7, 10, 4];
const cYMax = [13, 13, 11, 14, 11];
const cYTicks = [[6, 8, 10, 12], [7, 9, 11, 13], null, null, [4, 6, 8, 10]];

// ---------- layout ----------
const FONT = '"Liberation Sans", Arial, sans-serif';
const INK = '#111';
const colA = [93, 338, 585, 836, 1085], wA = 165, topA = 42, hA = 161;
const colB = [97, 341, 595, 843, 1093], wB = 157, topB = 313, hB = 137;
const colC = [100, 345, 595, 846, 1097], wC = 148, topC = 563, hC = 110;
const yGapA = [31, 26, 23, 24, 24];

const grid = [], xAxis = [], yAxis = [], series = [], legend = [], graphic = [];

const rich = {
  n: { fontFamily: FONT, fontWeight: 'bold', fontSize: 14, color: INK },
  i: { fontFamily: FONT, fontWeight: 'bold', fontStyle: 'italic', fontSize: 14, color: INK }
};
function nm(pre, gene, post) {
  return (pre ? '{n|' + pre + '}' : '') + '{i|' + gene + '}{n|' + post + '}';
}

function axis(gi, min, max, interval, ticks, name, gap) {
  const a = {
    type: 'value', gridIndex: gi, min: min, max: max,
    splitLine: { show: false },
    axisLine: { show: true, onZero: false, lineStyle: { color: INK, width: 2 } },
    axisTick: { show: true, length: 3, lineStyle: { color: INK, width: 1.5 } },
    axisLabel: { color: INK, fontFamily: FONT, fontWeight: 'bold', fontSize: 12, margin: 4 },
    name: name, nameLocation: 'middle', nameGap: gap,
    nameTextStyle: { rich: rich }
  };
  if (ticks) {
    a.axisLabel.customValues = ticks;
    a.axisTick.customValues = ticks;
  } else {
    a.interval = interval;
  }
  return a;
}

function text(x, y, str, opts) {
  graphic.push({
    type: 'text', x: x, y: y, silent: true,
    style: Object.assign({
      text: str, fill: INK, font: 'bold 13px ' + FONT,
      textAlign: 'left', align: 'left', textVerticalAlign: 'middle', verticalAlign: 'middle'
    }, opts || {})
  });
}
function centerText(x, y, str, font) {
  text(x, y, str, { font: font, textAlign: 'center', align: 'center' });
}

// row letters
text(10, 22, 'A.', { font: 'bold 25px ' + FONT });
text(10, 300, 'B.', { font: 'bold 25px ' + FONT });
text(10, 548, 'C.', { font: 'bold 25px ' + FONT });

const rowA = [
  [ascl2A_green, ascl2A_purple, ascl2A_greenFit, ascl2A_purpleFit],
  [rnf43A_green, rnf43A_purple, rnf43A_greenFit, rnf43A_purpleFit],
  [notch1A_green, notch1A_purple, notch1A_greenFit, notch1A_purpleFit],
  [mycA_green, mycA_purple, mycA_greenFit, mycA_purpleFit],
  [ephb2A_green, ephb2A_purple, ephb2A_greenFit, ephb2A_purpleFit]
];
const rowB = [[ascl2B, ascl2B_fit], [rnf43B, rnf43B_fit], [notch1B, notch1B_fit], [mycB, mycB_fit], [ephb2B, ephb2B_fit]];
const rowC = [[ascl2C_adenoma, ascl2C_normal], [rnf43C_adenoma, rnf43C_normal], [notch1C_adenoma, notch1C_normal], [mycC_adenoma, mycC_normal], [ephb2C_adenoma, ephb2C_normal]];

genes.forEach(function (g, k) {
  // ----- row A -----
  let gi = grid.length;
  grid.push({ left: colA[k], top: topA, width: wA, height: hA });
  xAxis.push(axis(gi, -3, 2, 1, null, nm('Rel. ', 'PLAGL2', ' mRNA (Log-2)'), 29));
  yAxis.push(axis(gi, aYMin[k], aYMax[k], 1, k === 0 ? ascl2A_yTicks : null, nm('Rel. ', g, ' mRNA (Log-2)'), yGapA[k]));
  const d = rowA[k];
  series.push({ type: 'scatter', name: aGreenR[k], xAxisIndex: gi, yAxisIndex: gi, data: d[0], symbol: 'circle', symbolSize: 6, itemStyle: { color: '#88b54c', opacity: 0.95 }, silent: true });
  series.push({ type: 'scatter', name: aPurpleR[k], xAxisIndex: gi, yAxisIndex: gi, data: d[1], symbol: 'diamond', symbolSize: 6, itemStyle: { color: '#6f4c9b', opacity: 0.95 }, silent: true });
  series.push({ type: 'line', name: 'fitP' + k, xAxisIndex: gi, yAxisIndex: gi, data: d[3], showSymbol: false, silent: true, lineStyle: { color: '#8b6cb6', width: 3 }, z: 3 });
  series.push({ type: 'line', name: 'fitG' + k, xAxisIndex: gi, yAxisIndex: gi, data: d[2], showSymbol: false, silent: true, lineStyle: { color: '#5b7a2a', width: 4 }, z: 4 });
  legend.push({
    left: colA[k] + 91, top: topA + 114, orient: 'vertical', itemGap: 3, itemWidth: 10, itemHeight: 10, padding: 0,
    selectedMode: false,
    data: [{ name: aGreenR[k], icon: 'circle' }, { name: aPurpleR[k], icon: 'diamond' }],
    textStyle: { fontFamily: FONT, fontWeight: 'bold', fontSize: 12, color: INK }
  });
  text(colA[k] + 161, topA + 151, aP[k], { font: 'bold 12px ' + FONT, textAlign: 'right', align: 'right' });
  centerText(colA[k] + wA / 2, 21, g, 'italic bold 20px ' + FONT);

  // ----- row B -----
  gi = grid.length;
  grid.push({ left: colB[k], top: topB, width: wB, height: hB });
  xAxis.push(axis(gi, 8, 11, 1, null, nm('', 'PLAGL2', ' mRNA (Log-2)'), 24));
  xAxis[gi].axisLabel.margin = 6;
  yAxis.push(axis(gi, bYMin[k], bYMax[k], 1, null, nm('', g, ' mRNA (Log-2)'), 22));
  series.push({ type: 'scatter', name: 'PDCCE' + k, xAxisIndex: gi, yAxisIndex: gi, data: rowB[k][0], symbol: 'diamond', symbolSize: 10, silent: true, itemStyle: { color: '#cfcfcf', borderColor: '#2a2a2a', borderWidth: 2 } });
  series.push({ type: 'line', name: 'fitB' + k, xAxisIndex: gi, yAxisIndex: gi, data: rowB[k][1], showSymbol: false, silent: true, lineStyle: { color: INK, width: 1.5 }, z: 3 });
  centerText(colB[k] + 116, topB + 91, 'PDCCE', 'bold 13px ' + FONT);
  centerText(colB[k] + 116, topB + 106, bR[k], 'bold 13px ' + FONT);
  centerText(colB[k] + 116, topB + 121, bP[k], 'bold 13px ' + FONT);
  centerText(colB[k] + wB / 2, 304, g, 'italic bold 20px ' + FONT);

  // ----- row C -----
  gi = grid.length;
  grid.push({ left: colC[k], top: topC, width: wC, height: hC });
  xAxis.push(axis(gi, 8, 11, 1, null, nm('', 'PLAGL2', ' mRNA (Log-2)'), 14));
  yAxis.push(axis(gi, cYMin[k], cYMax[k], 1, cYTicks[k], nm('', g, ' mRNA (Log-2)'), 23));
  xAxis[gi].axisLabel.margin = 2;
  series.push({ type: 'scatter', name: 'Normal', xAxisIndex: gi, yAxisIndex: gi, data: rowC[k][1], symbol: 'diamond', symbolSize: 9, silent: true, itemStyle: { color: '#a7bfdc', borderColor: '#4d596b', borderWidth: 1 } });
  series.push({ type: 'scatter', name: 'Adenoma', xAxisIndex: gi, yAxisIndex: gi, data: rowC[k][0], symbol: 'rect', symbolSize: 8, silent: true, itemStyle: { color: '#e05550', borderColor: '#6e1f1f', borderWidth: 1 } });
  legend.push({
    left: colC[k] + 84, top: topC + 55, orient: 'vertical', itemGap: 4, itemWidth: 11, itemHeight: 11, padding: 0,
    selectedMode: false,
    data: [{ name: 'Adenoma', icon: 'rect' }, { name: 'Normal', icon: 'diamond' }],
    textStyle: { fontFamily: FONT, fontWeight: 'bold', fontSize: 12, color: INK }
  });
  centerText(colC[k] + wC / 2, 552, g, 'italic bold 20px ' + FONT);
});

const chart = echarts.init(document.getElementById('main'));
chart.setOption({
  backgroundColor: '#fff',
  animation: false,
  grid: grid,
  xAxis: xAxis,
  yAxis: yAxis,
  legend: legend,
  graphic: graphic,
  series: series
});
</script>
</body>
</html>
